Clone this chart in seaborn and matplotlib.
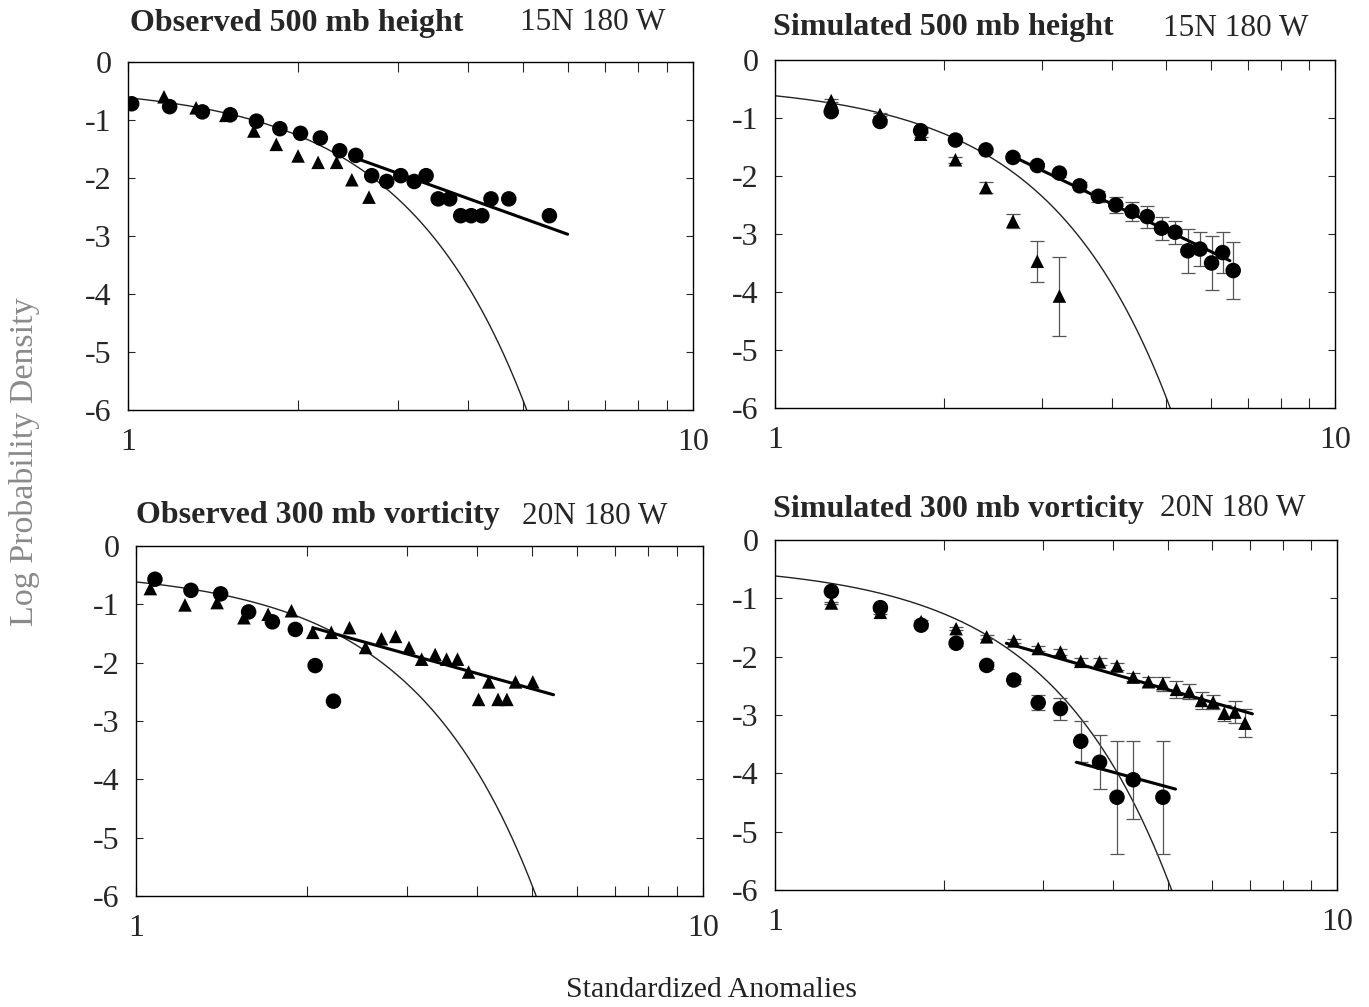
import numpy as np
import pandas as pd
import seaborn as sns
import matplotlib.pyplot as plt
from matplotlib.ticker import FixedLocator, FixedFormatter, NullFormatter

sns.set_style("ticks")
plt.rcParams['font.family'] = ['Liberation Serif', 'DejaVu Serif']

# ---- panel 1: observed 500 mb height, 15N 180W ----
p1_circ_x = [1.015, 1.185, 1.354, 1.517, 1.688, 1.857, 2.02, 2.19, 2.37, 2.53, 2.70, 2.87,
             3.04, 3.21, 3.37, 3.54, 3.71, 3.88, 4.05, 4.23, 4.39, 4.72, 5.57]
p1_circ_y = [-0.72, -0.77, -0.86, -0.91, -1.02, -1.15, -1.23, -1.31, -1.53, -1.61, -1.96, -2.06,
             -1.96, -2.06, -1.96, -2.36, -2.36, -2.65, -2.65, -2.65, -2.36, -2.36, -2.65]
p1_tri_x = [1.158, 1.32, 1.49, 1.67, 1.83, 2.00, 2.17, 2.34, 2.49, 2.67]
p1_tri_y = [-0.60, -0.79, -0.92, -1.19, -1.42, -1.62, -1.73, -1.73, -2.03, -2.33]
p1_fit = ([2.55, 6.0], [-1.67, -2.97])

# ---- panel 2: simulated 500 mb height, 15N 180W ----
p2_circ_x = [1.26, 1.54, 1.82, 2.10, 2.38, 2.66, 2.94, 3.22, 3.50, 3.78, 4.06, 4.34,
             4.62, 4.90, 5.18, 5.46, 5.74, 6.02, 6.30, 6.58]
p2_circ_y = [-0.89, -1.06, -1.22, -1.38, -1.55, -1.68, -1.82, -1.95, -2.17, -2.35, -2.50, -2.61,
             -2.70, -2.90, -2.97, -3.29, -3.26, -3.50, -3.32, -3.63]
p2_circ_err = [0.03, 0.04, 0.04, 0.04, 0.04, 0.04, 0.05, 0.06, 0.07, 0.10, 0.14, 0.17,
               0.19, 0.20, 0.20, 0.38, 0.30, 0.46, 0.36, 0.49]
p2_tri_x = [1.26, 1.54, 1.82, 2.10, 2.38, 2.66, 2.94, 3.22]
p2_tri_y = [-0.70, -0.94, -1.28, -1.72, -2.20, -2.78, -3.47, -4.07]
p2_tri_err = [0.02, 0.03, 0.04, 0.05, 0.09, 0.12, 0.35, 0.68]
p2_fit = ([2.67, 6.49], [-1.67, -3.46])

# ---- panel 3: observed 300 mb vorticity, 20N 180W ----
p3_circ_x = [1.08, 1.25, 1.41, 1.58, 1.74, 1.91, 2.07, 2.23]
p3_circ_y = [-0.57, -0.76, -0.82, -1.13, -1.30, -1.43, -2.05, -2.66]
p3_tri_x = [1.06, 1.22, 1.39, 1.55, 1.71, 1.88, 2.05, 2.21, 2.38, 2.54, 2.71, 2.87,
            3.03, 3.19, 3.37, 3.53, 3.69, 3.86, 4.02, 4.19, 4.35, 4.51, 4.67, 5.01]
p3_tri_y = [-0.73, -1.01, -0.97, -1.23, -1.17, -1.11, -1.48, -1.48, -1.40, -1.74, -1.59, -1.55,
            -1.74, -1.94, -1.86, -1.94, -1.94, -2.16, -2.63, -2.33, -2.63, -2.63, -2.33, -2.33]
p3_fit = ([2.05, 5.45], [-1.40, -2.55])

# ---- panel 4: simulated 300 mb vorticity, 20N 180W ----
p4_circ_x = [1.26, 1.54, 1.82, 2.10, 2.38, 2.66, 2.94, 3.22, 3.50, 3.78, 4.06, 4.34, 4.90]
p4_circ_y = [-0.88, -1.16, -1.46, -1.77, -2.15, -2.40, -2.79, -2.89, -3.45, -3.81, -4.41, -4.11, -4.41]
p4_circ_err = [0.03, 0.04, 0.04, 0.05, 0.06, 0.07, 0.13, 0.19, 0.35, 0.46, 0.97, 0.67, 0.97]
p4_tri_x = [1.26, 1.54, 1.82, 2.10, 2.38, 2.66, 2.94, 3.22, 3.50, 3.78, 4.06, 4.34,
            4.62, 4.90, 5.18, 5.46, 5.74, 6.02, 6.30, 6.58, 6.86]
p4_tri_y = [-1.08, -1.24, -1.40, -1.52, -1.66, -1.73, -1.86, -1.92, -2.08, -2.09, -2.16, -2.35,
            -2.43, -2.46, -2.56, -2.60, -2.75, -2.78, -2.97, -2.95, -3.14]
p4_tri_err = [0.02, 0.03, 0.03, 0.03, 0.04, 0.04, 0.04, 0.05, 0.06, 0.06, 0.06, 0.07,
              0.08, 0.12, 0.14, 0.13, 0.14, 0.12, 0.14, 0.19, 0.24]
p4_fit_tri = ([2.58, 7.07], [-1.77, -2.98])
p4_fit_circ = ([3.44, 5.16], [-3.81, -4.27])

titles = ["Observed 500 mb height", "Simulated 500 mb height",
          "Observed 300 mb vorticity", "Simulated 300 mb vorticity"]
locations = ["15N 180 W", "15N 180 W", "20N 180 W", "20N 180 W"]


def log_gauss(x):
    # log10 of the standard normal density (reference curve)
    return np.log10(np.exp(-x ** 2 / 2) / np.sqrt(2 * np.pi))


W, H = 1369, 1007
fig = plt.figure(figsize=(W / 100, H / 100), dpi=100)

# axes boxes in pixels: left, right, top, bottom
boxes = [(128, 693, 62, 410), (775, 1335, 60, 408),
         (136, 703, 546, 896), (775, 1337, 540, 890)]
# title positions in pixels: title left x, location left x, centre y
title_pos = [(130, 520, 23), (773, 1163, 28), (136, 522, 516), (773, 1160, 509)]

panels = [
    dict(circ=(p1_circ_x, p1_circ_y, None), tri=(p1_tri_x, p1_tri_y, None), fits=[p1_fit]),
    dict(circ=(p2_circ_x, p2_circ_y, p2_circ_err), tri=(p2_tri_x, p2_tri_y, p2_tri_err), fits=[p2_fit]),
    dict(circ=(p3_circ_x, p3_circ_y, None), tri=(p3_tri_x, p3_tri_y, None), fits=[p3_fit]),
    dict(circ=(p4_circ_x, p4_circ_y, p4_circ_err), tri=(p4_tri_x, p4_tri_y, p4_tri_err),
         fits=[p4_fit_tri, p4_fit_circ]),
]

gx = np.geomspace(1, 5.4, 300)
gauss = pd.DataFrame({"x": gx, "y": log_gauss(gx)})

for i, (pan, (l, r, t, b)) in enumerate(zip(panels, boxes)):
    ax = fig.add_axes([l / W, 1 - b / H, (r - l) / W, (b - t) / H])
    ax.set_xscale("log")

    sns.lineplot(data=gauss, x="x", y="y", ax=ax, color="#222222", lw=1.0)

    for key, mk, ms in [("tri", "^", 95), ("circ", "o", 125)]:
        xs, ys, err = pan[key]
        if err is not None:
            ax.errorbar(xs, ys, yerr=err, fmt="none", ecolor="#555555",
                        elinewidth=0.9, capsize=5, capthick=0.9, zorder=2)
        df = pd.DataFrame({"x": xs, "y": ys})
        sns.scatterplot(data=df, x="x", y="y", ax=ax, marker=mk, s=ms,
                        color="black", edgecolor="none", zorder=3)

    for fx, fy in pan["fits"]:
        sns.lineplot(x=fx, y=fy, ax=ax, color="black", lw=2.2, zorder=4)

    ax.set_xlim(1, 10)
    ax.set_ylim(-6, 0)
    ax.xaxis.set_major_locator(FixedLocator([1, 10]))
    ax.xaxis.set_major_formatter(FixedFormatter(["1", "10"]))
    ax.xaxis.set_minor_locator(FixedLocator([2, 3, 4, 5, 6, 7, 8, 9]))
    ax.xaxis.set_minor_formatter(NullFormatter())
    ax.set_yticks([0, -1, -2, -3, -4, -5, -6])
    ax.set_yticklabels(["0", "-1", "-2", "-3", "-4", "-5", "-6"])
    ax.tick_params(axis="x", which="both", direction="in", top=True, bottom=True,
                   length=7, width=0.8, labelsize=23, pad=13)
    ax.tick_params(axis="y", direction="in", left=True, right=True,
                   length=5, width=0.8, labelsize=23, pad=12)
    for sp in ax.spines.values():
        sp.set_linewidth(1.0)
        sp.set_color("black")
    ax.set_xlabel("")
    ax.set_ylabel("")

    tx, lx, ty = title_pos[i]
    fig.text(tx / W, 1 - ty / H, titles[i], fontsize=23, fontweight="bold",
             ha="left", va="center")
    fig.text(lx / W, 1 - ty / H, locations[i], fontsize=22.5,
             ha="left", va="center")

fig.text(25 / W, 1 - 462 / H, "Log Probability Density", rotation=90,
         fontsize=24.5, color="#8a8a8a", ha="center", va="center")
fig.text(712 / W, 1 - 990 / H, "Standardized Anomalies", fontsize=21.5,
         color="#222222", ha="center", va="center")

fig.savefig("out.png", dpi=100, facecolor="white")
